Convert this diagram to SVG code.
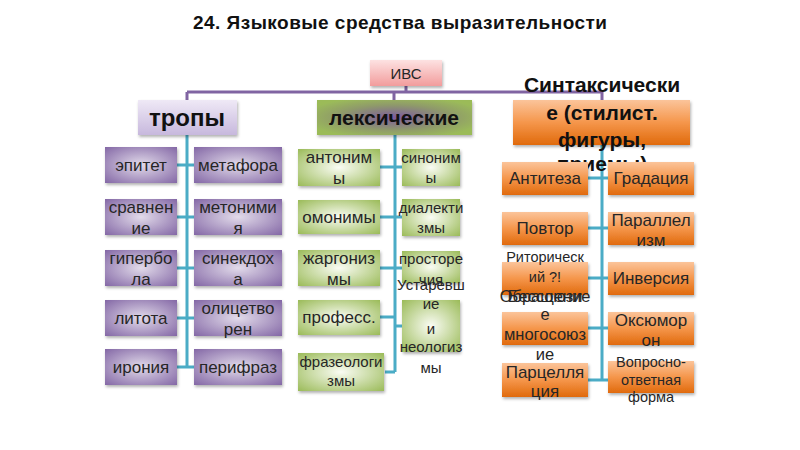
<svg xmlns="http://www.w3.org/2000/svg" width="800" height="450" viewBox="0 0 800 450">
<defs>
<style>
text{font-family:"Liberation Sans",Arial,sans-serif;fill:#262626;text-anchor:middle}
.t{font-size:17px}
.m{font-size:15px}
.s{font-size:14.5px}
.b{font-size:16.5px}
.h{font-weight:bold;fill:#111}
.p{fill:url(#gp);filter:url(#sh)}
.g{fill:url(#gg);filter:url(#sh)}
.o{fill:url(#go);filter:url(#sh)}
.top{stroke:#8064a2;stroke-width:3;fill:none}
.br{stroke:#4bacc6;stroke-width:3;fill:none}
</style>
<radialGradient id="gp" cx="50%" cy="50%" r="70%"><stop offset="0" stop-color="#e2dbea"/><stop offset="1" stop-color="#8468a6"/></radialGradient>
<radialGradient id="gg" cx="50%" cy="50%" r="70%"><stop offset="0" stop-color="#fafcf4"/><stop offset="1" stop-color="#9bbb59"/></radialGradient>
<linearGradient id="go" x1="0" y1="0" x2="0" y2="1"><stop offset="0" stop-color="#fbc49a"/><stop offset="0.5" stop-color="#f5964b"/><stop offset="1" stop-color="#e06a0c"/></linearGradient>
<linearGradient id="gt" x1="0" y1="0" x2="0" y2="1"><stop offset="0" stop-color="#efe9f6"/><stop offset="1" stop-color="#c7b8dd"/></linearGradient>
<radialGradient id="gl" cx="50%" cy="50%" r="60%"><stop offset="0" stop-color="#7d5aa0"/><stop offset="0.6" stop-color="#8f9a6a"/><stop offset="1" stop-color="#9bbb59"/></radialGradient>
<linearGradient id="gi" x1="0" y1="0" x2="0" y2="1"><stop offset="0" stop-color="#fde2e2"/><stop offset="1" stop-color="#f29c9c"/></linearGradient>
<filter id="sh" x="-10%" y="-10%" width="125%" height="135%"><feDropShadow dx="1" dy="2" stdDeviation="1.5" flood-color="#000" flood-opacity="0.3"/></filter>
</defs>
<rect width="800" height="450" fill="#fff"/>
<text x="400" y="29" class="h" style="font-size:19px" textLength="414">24. Языковые средства выразительности</text>

<g id="connectors">
<path class="top" d="M406 86V92M187 92H602M187 92V100M394 92V100M602 92V100"/>
<path class="br" d="M187 135V367M177 165H194M177 217H194M177 268H194M177 318H194M177 367H194"/>
<path class="br" d="M395 135V372M380 167H402M380 217H402M380 268H402M380 317H395M395 326H402M385 372H395"/>
<path class="br" d="M602 145V380M588 178H608M588 228H608M588 278H608M588 328H608M588 380H608"/>
</g>

<g id="ivs"><rect x="370" y="60" width="72" height="26" fill="url(#gi)" filter="url(#sh)"/><text x="406" y="79" style="font-size:15px">ИВС</text></g>
<g id="tropy"><rect x="138" y="100" width="99" height="35" fill="url(#gt)" filter="url(#sh)"/><text x="187" y="126" class="h" style="font-size:24px">тропы</text></g>
<g id="leks"><rect x="317" y="100" width="155" height="35" fill="url(#gl)" filter="url(#sh)"/><text x="394" y="125" class="h" style="font-size:21px">лексические</text></g>
<g id="sint"><rect x="513" y="100" width="177" height="45" class="o"/>
<text class="h" style="font-size:21px" x="602"><tspan x="602" y="92">Синтаксически</tspan><tspan x="602" y="120">е (стилист.</tspan><tspan x="602" y="147">фигуры,</tspan><tspan x="602" y="171">приемы)</tspan></text></g>

<g id="t1"><rect x="105" y="147" width="72" height="36" class="p"/><text class="t" x="141" y="171">эпитет</text></g>
<g id="t2"><rect x="194" y="147" width="88" height="36" class="p"/><text class="t" x="238" y="171">метафора</text></g>
<g id="t3"><rect x="105" y="199" width="72" height="36" class="p"/><text class="t" x="141"><tspan x="141" y="213">сравнен</tspan><tspan x="141" y="234">ие</tspan></text></g>
<g id="t4"><rect x="194" y="199" width="88" height="36" class="p"/><text class="t" x="238"><tspan x="238" y="213">метоними</tspan><tspan x="238" y="234">я</tspan></text></g>
<g id="t5"><rect x="105" y="250" width="72" height="36" class="p"/><text class="t" x="141"><tspan x="141" y="264">гипербо</tspan><tspan x="141" y="285">ла</tspan></text></g>
<g id="t6"><rect x="194" y="250" width="88" height="36" class="p"/><text class="t" x="238"><tspan x="238" y="264">синекдох</tspan><tspan x="238" y="285">а</tspan></text></g>
<g id="t7"><rect x="105" y="300" width="72" height="36" class="p"/><text class="t" x="141" y="324">литота</text></g>
<g id="t8"><rect x="194" y="300" width="88" height="36" class="p"/><text class="t" x="238"><tspan x="238" y="314">олицетво</tspan><tspan x="238" y="335">рен</tspan></text></g>
<g id="t9"><rect x="105" y="349" width="72" height="36" class="p"/><text class="t" x="141" y="373">ирония</text></g>
<g id="t10"><rect x="194" y="349" width="88" height="36" class="p"/><text class="t" x="238" y="373">перифраз</text></g>

<g id="l1"><rect x="298" y="149" width="82" height="37" class="g"/><text class="t" x="339"><tspan x="339" y="163">антоним</tspan><tspan x="339" y="184">ы</tspan></text></g>
<g id="l2"><rect x="402" y="149" width="58" height="37" class="g"/><text class="m" x="431"><tspan x="431" y="163">синоним</tspan><tspan x="431" y="183">ы</tspan></text></g>
<g id="l3"><rect x="298" y="200" width="82" height="34" class="g"/><text class="t" x="339" y="223">омонимы</text></g>
<g id="l4"><rect x="402" y="199" width="58" height="37" class="g"/><text class="m" x="431"><tspan x="431" y="213">диалекти</tspan><tspan x="431" y="233">змы</tspan></text></g>
<g id="l5"><rect x="298" y="250" width="82" height="36" class="g"/><text class="t" x="339"><tspan x="339" y="264">жаргониз</tspan><tspan x="339" y="285">мы</tspan></text></g>
<g id="l6"><rect x="402" y="251" width="58" height="32" class="g"/><text class="m" x="431"><tspan x="431" y="264">просторе</tspan><tspan x="431" y="285">чия</tspan></text></g>
<g id="l7"><rect x="298" y="300" width="82" height="35" class="g"/><text class="t" x="339" y="323">професс.</text></g>
<g id="l8"><rect x="402" y="300" width="58" height="52" class="g"/><text class="m" x="431"><tspan x="431" y="290">Устаревш</tspan><tspan x="431" y="309">ие</tspan><tspan x="431" y="334">и</tspan><tspan x="431" y="352">неологиз</tspan><tspan x="431" y="373">мы</tspan></text></g>
<g id="l9"><rect x="298" y="353" width="86" height="38" class="g"/><text class="m" x="341"><tspan x="341" y="367">фразеологи</tspan><tspan x="341" y="386">змы</tspan></text></g>

<g id="s1"><rect x="502" y="162" width="86" height="33" class="o"/><text class="t" x="545" y="184">Антитеза</text></g>
<g id="s2"><rect x="608" y="162" width="86" height="33" class="o"/><text class="t" x="651" y="184">Градация</text></g>
<g id="s3"><rect x="502" y="212" width="86" height="33" class="o"/><text class="t" x="545" y="234">Повтор</text></g>
<g id="s4"><rect x="608" y="212" width="86" height="33" class="o"/><text class="t" x="651"><tspan x="651" y="226">Параллел</tspan><tspan x="651" y="246">изм</tspan></text></g>
<g id="s5"><rect x="502" y="262" width="86" height="33" class="o"/><text class="s" x="545"><tspan x="545" y="262">Риторическ</tspan><tspan x="545" y="282">ий ?!</tspan></text></g>
<g id="s6"><rect x="608" y="262" width="86" height="33" class="o"/><text class="t" x="651" y="284">Инверсия</text></g>
<g id="s7"><rect x="502" y="312" width="86" height="33" class="o"/><text class="b" x="545" y="302">Обращение</text><text class="b" x="545"><tspan x="545" y="302">Бессоюзи</tspan><tspan x="545" y="320">е</tspan><tspan x="545" y="340">многосоюз</tspan><tspan x="545" y="360">ие</tspan></text></g>
<g id="s8"><rect x="608" y="312" width="86" height="33" class="o"/><text class="t" x="651"><tspan x="651" y="326">Оксюмор</tspan><tspan x="651" y="346">он</tspan></text></g>
<g id="s9"><rect x="502" y="363" width="86" height="34" class="o"/><text class="t" x="545"><tspan x="545" y="378">Парцелля</tspan><tspan x="545" y="397">ция</tspan></text></g>
<g id="s10"><rect x="608" y="361" width="86" height="32" class="o"/><text class="s" x="651"><tspan x="651" y="367">Вопросно-</tspan><tspan x="651" y="385">ответная</tspan><tspan x="651" y="402">форма</tspan></text></g>
</svg>
